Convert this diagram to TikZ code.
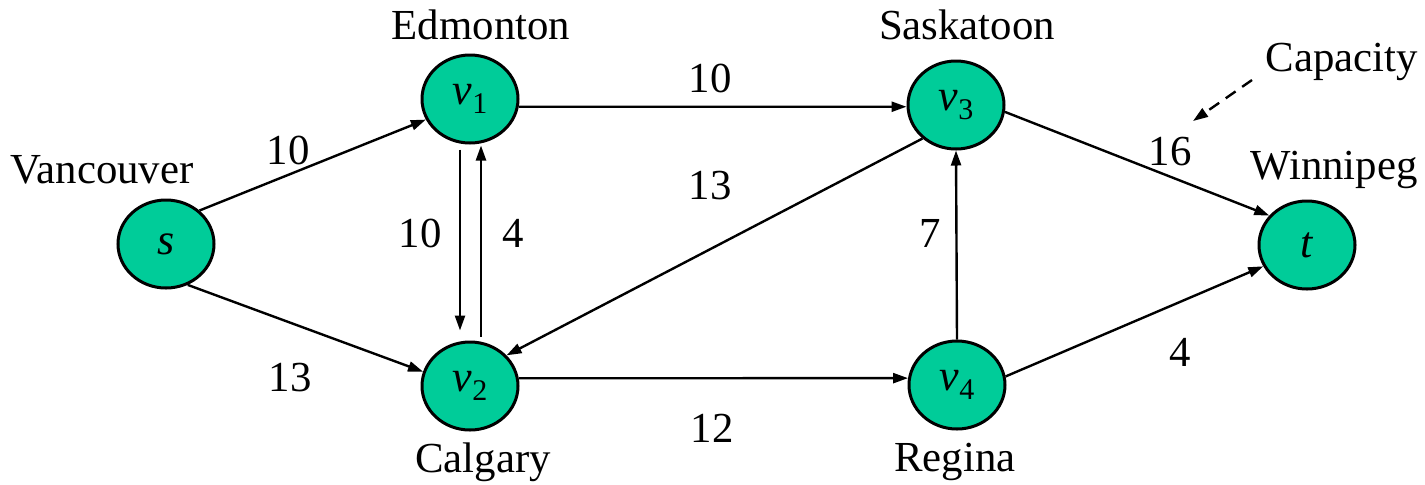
\documentclass[tikz,border=0pt]{standalone}
\usepackage{fontspec}
\setmainfont{Liberation Serif}
\usetikzlibrary{shapes.geometric,arrows.meta,calc}
\definecolor{nodegreen}{RGB}{0,204,153}
\tikzset{
  city/.style={ellipse, draw=black, line width=1.5pt, fill=nodegreen, minimum width=48pt, minimum height=44pt, inner sep=0pt},
  lbl/.style={font=\fontsize{21.4pt}{24pt}\selectfont, inner sep=0pt},
  edge/.style={line width=1.2pt, -{Triangle[length=7.5pt,width=5pt]}},
}
\newcommand{\nv}[1]{\textit{v}\raisebox{-0.45ex}{\fontsize{15pt}{17pt}\selectfont #1}}
\begin{document}
\begin{tikzpicture}[x=0.5pt,y=-0.5pt]
\useasboundingbox (0,0) rectangle (1425,484);
\begin{scope}[every node/.append style={font=\fontsize{22pt}{24pt}\selectfont}]
\node[city] (s) at (166,244) {\textit{s}};
\node[city] (v1) at (470,99) {\nv{1}};
\node[city] (v2) at (470,386) {\nv{2}};
\node[city] (v3) at (956,105) {\nv{3}};
\node[city] (v4) at (957,385) {\nv{4}};
\node[city] (t) at (1307,245) {\textit{t}};
\end{scope}

\node[lbl] (lvan) at (102,170) {Vancouver};
\node[lbl] (ledm) at (481,25) {Edmonton};
\node[lbl] (lsas) at (967,25) {Saskatoon};
\node[lbl] (lwin) at (1334,170) {Winnipeg};
\node[lbl] (lcal) at (483,462) {Calgary};
\node[lbl] (lreg) at (955,462) {Regina};
\node[lbl] (lcap) at (1342,62) {Capacity};

\draw[edge] (s.45) -- (v1.205);
\draw[edge] (s.-62) -- (v2.163);
\draw[edge] (v1.-9.5) -- (v3.182);
\draw[edge] ($(v1.south)+(-10,5)$) -- ($(v2.north)+(-10,-10)$);
\draw[edge] ($(v2.north)+(11,-4)$) -- ($(v1.south)+(11,1)$);
\draw[edge] (v3.225) -- (v2.40.6);
\draw[edge] (v2.9.5) -- (v4.172);
\draw[edge] (v4.north) -- (v3.south);
\draw[edge] (v3.-8.7) -- (t.142.4);
\draw[edge] (v4.10) -- (t.206);

\coordinate (capA) at (1252,80);
\coordinate (capB) at (1193,121);
\draw[edge, dashed, dash pattern=on 6pt off 4pt] (capA) -- (capB);

\node[lbl] at (288,150) {10};
\node[lbl] at (290,378) {13};
\node[lbl] at (710,78) {10};
\node[lbl] at (420,233) {10};
\node[lbl] at (513,233) {4};
\node[lbl] at (710,186) {13};
\node[lbl] at (712,428) {12};
\node[lbl] at (930,233) {7};
\node[lbl] at (1170,152) {16};
\node[lbl] at (1180,352) {4};
\end{tikzpicture}
\end{document}
